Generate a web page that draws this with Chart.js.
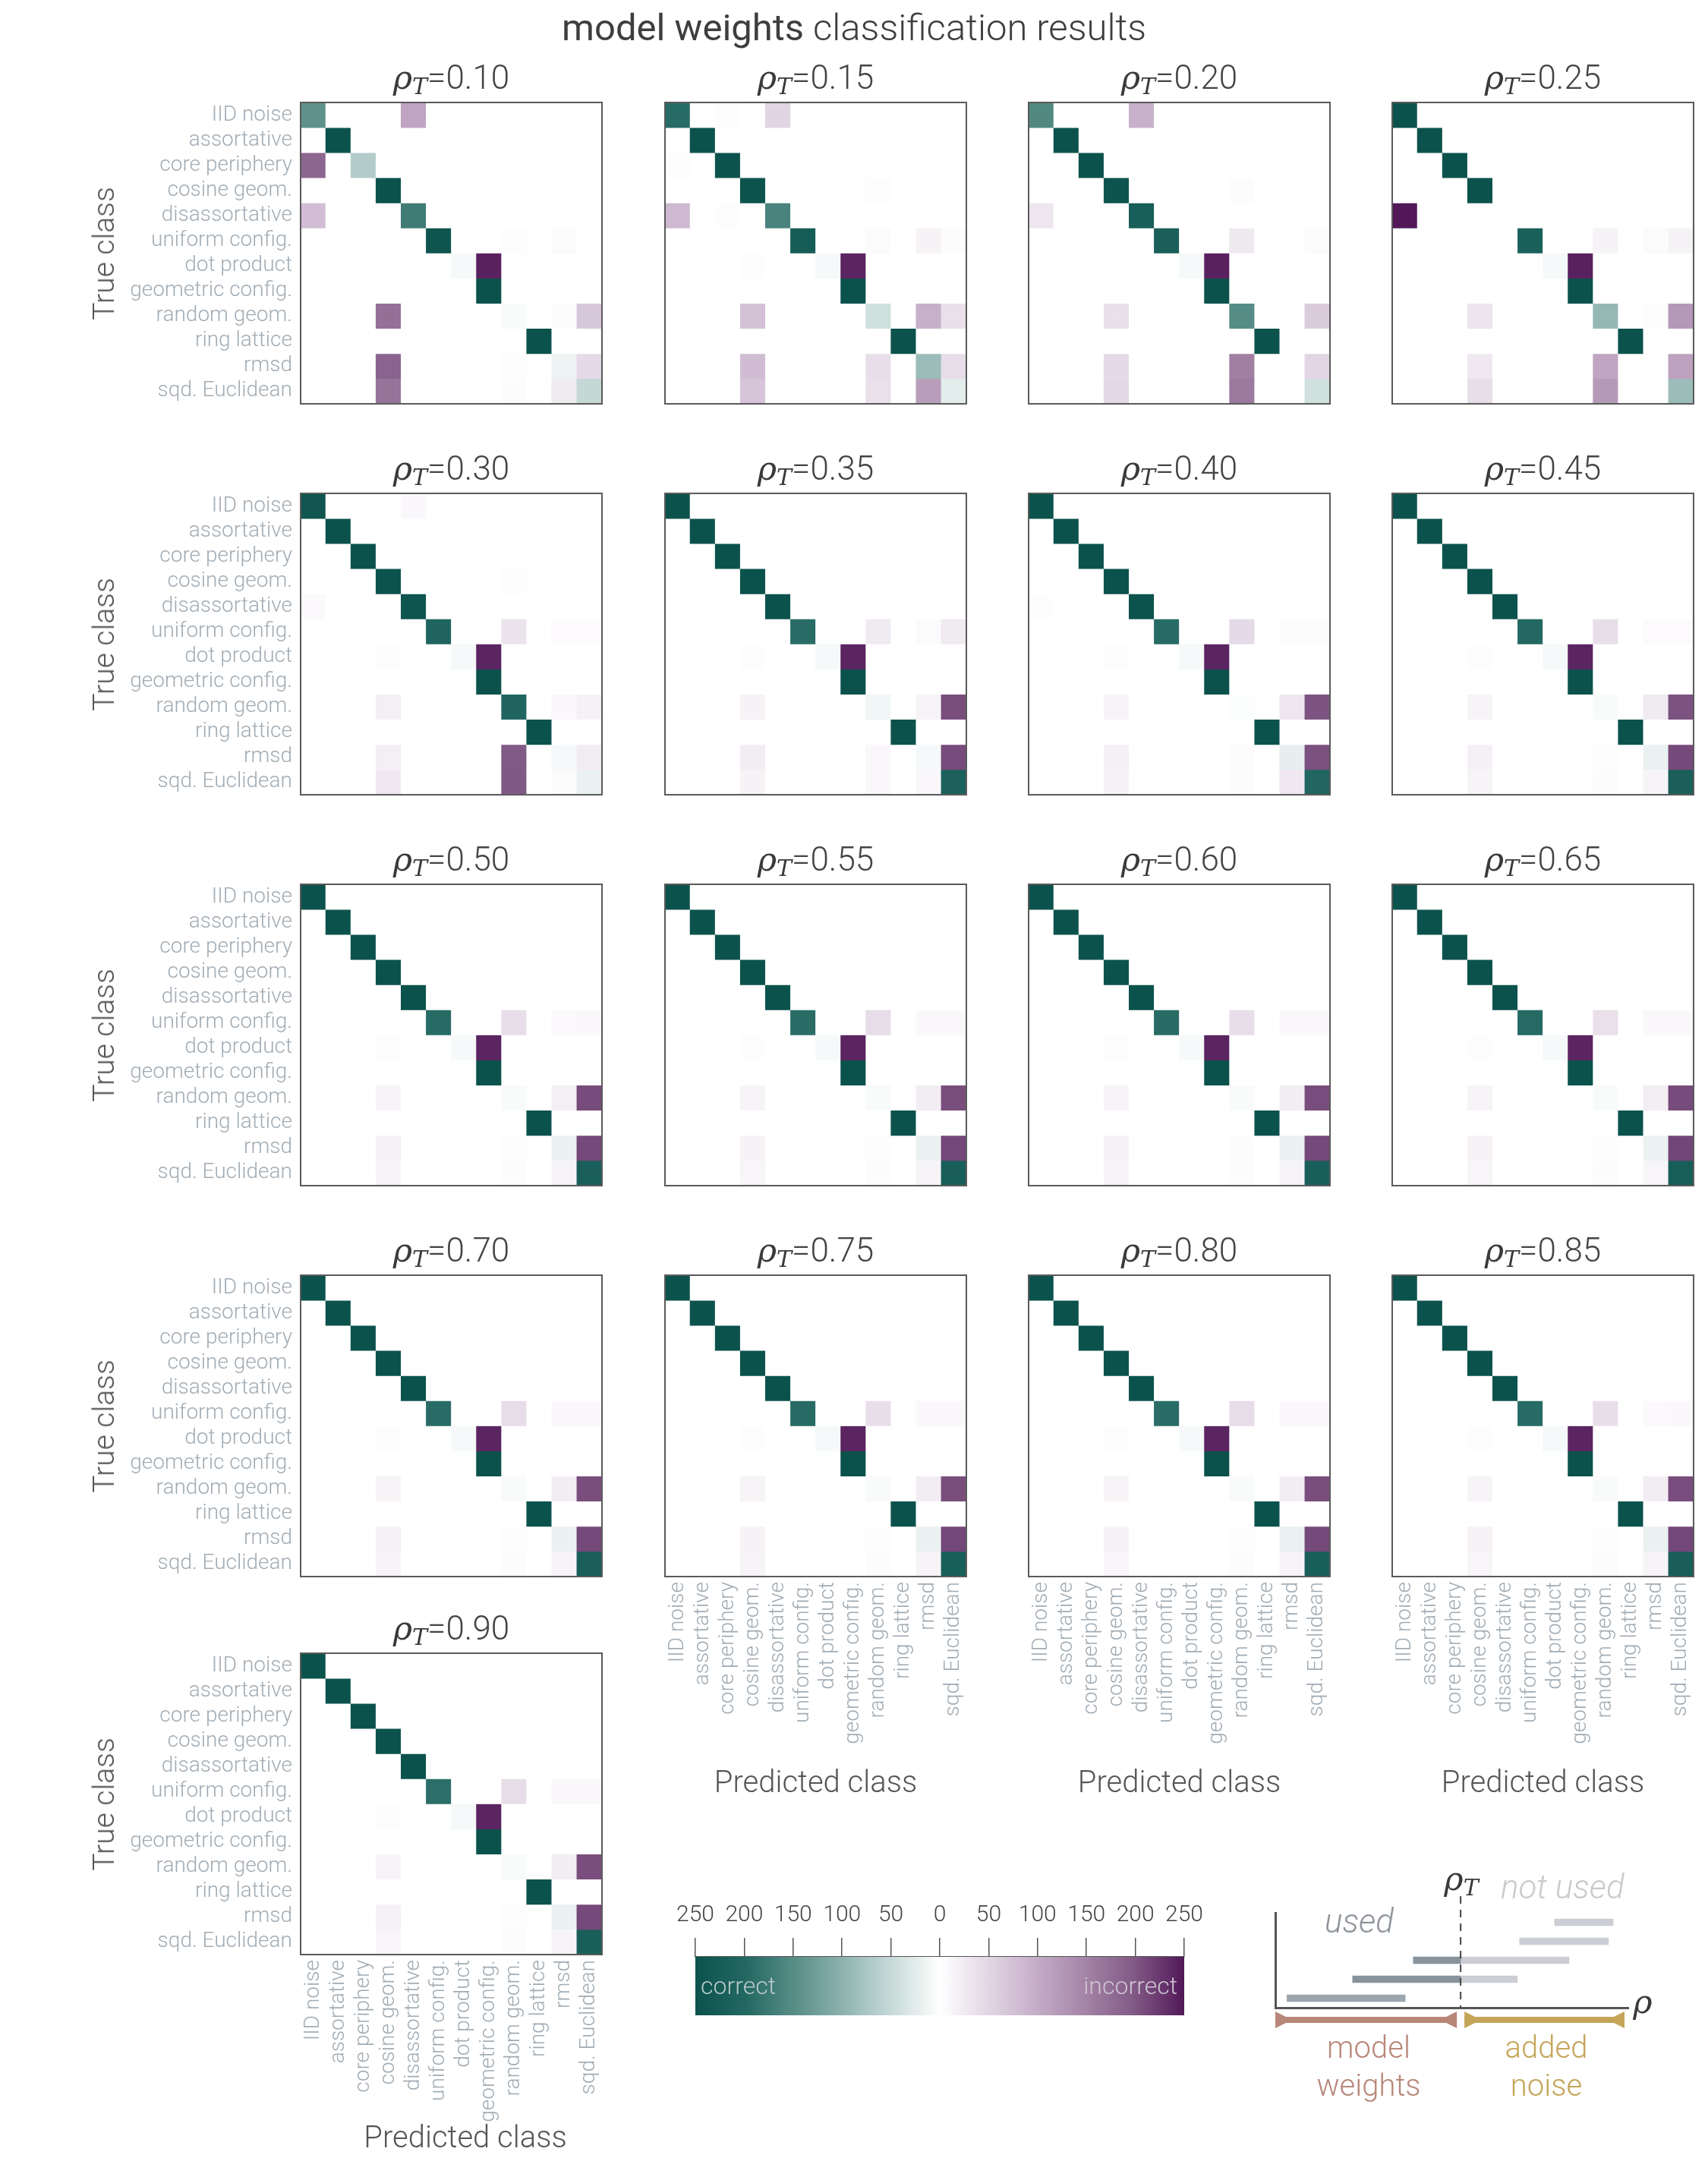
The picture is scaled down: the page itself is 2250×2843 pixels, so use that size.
<!DOCTYPE html>
<html>
<head>
<meta charset="utf-8">
<script src="https://cdn.jsdelivr.net/npm/chart.js@4.4.1/dist/chart.umd.min.js"></script>
<style>
  body { margin: 0; background: #fff; width: 2250px; height: 2843px; position: relative; overflow: hidden;
         font-family: Roboto, "Open Sans", sans-serif; font-weight: 300; }
  canvas { position: absolute; }
  .t { position: absolute; white-space: nowrap; }
  .title { font-size: 49px; line-height: 56px; color: #3e3e3e; transform: translateX(-50%); }
  .title b { font-weight: 400; }
  .st { font-size: 44px; line-height: 50px; color: #444; transform: translateX(-50%); }
  .rho { font-family: "DejaVu Serif", serif; font-style: italic; font-size: 43px; color: #3a3a3a; }
  .rho sub { font-size: 30px; vertical-align: -7px; }
  .ylab { font-size: 39px; line-height: 42px; color: #555; transform: translate(-50%, -50%) rotate(-90deg); }
  .xlab { font-size: 40px; line-height: 50px; color: #555; transform: translateX(-50%); }
  .cb { font-size: 32px; line-height: 40px; }
  .sch { font-size: 44px; line-height: 50px; font-style: italic; }
  .lbl { font-size: 40px; line-height: 50px; text-align: center; transform: translateX(-50%); }
</style>
</head>
<body>
<script>
// class names, in matrix order (rows = true class, columns = predicted class)
const classes = ['IID noise', 'assortative', 'core periphery', 'cosine geom.', 'disassortative',
  'uniform config.', 'dot product', 'geometric config.', 'random geom.', 'ring lattice', 'rmsd', 'sqd. Euclidean'];

const rhoValues = ['0.10', '0.15', '0.20', '0.25', '0.30', '0.35', '0.40', '0.45', '0.50',
  '0.55', '0.60', '0.65', '0.70', '0.75', '0.80', '0.85', '0.90'];

// counts per true class (250 samples each)
const m010 = [
  [142,  0,  0,  0,108,  0,  0,  0,  0,  0,  0,  0],
  [  0,250,  0,  0,  0,  0,  0,  0,  0,  0,  0,  0],
  [183,  0, 67,  0,  0,  0,  0,  0,  0,  0,  0,  0],
  [  0,  0,  0,250,  0,  0,  0,  0,  0,  0,  0,  0],
  [ 78,  0,  0,  0,172,  0,  0,  0,  0,  0,  0,  0],
  [  0,  0,  0,  0,  0,243,  0,  0,  2,  0,  5,  0],
  [  0,  0,  0,  0,  0,  0,  8,242,  0,  0,  0,  0],
  [  0,  0,  0,  0,  0,  0,  0,250,  0,  0,  0,  0],
  [  0,  0,  0,172,  0,  0,  0,  0,  6,  0,  4, 68],
  [  0,  0,  0,  0,  0,  0,  0,  0,  0,250,  0,  0],
  [  0,  0,  0,186,  0,  0,  0,  0,  3,  0, 16, 45],
  [  0,  0,  0,168,  0,  0,  0,  0,  4,  0, 26, 52]
];
const m015 = [
  [195,  0,  3,  0, 52,  0,  0,  0,  0,  0,  0,  0],
  [  0,250,  0,  0,  0,  0,  0,  0,  0,  0,  0,  0],
  [  2,  0,248,  0,  0,  0,  0,  0,  0,  0,  0,  0],
  [  0,  0,  0,247,  0,  0,  0,  0,  3,  0,  0,  0],
  [ 85,  0,  3,  0,162,  0,  0,  0,  0,  0,  0,  0],
  [  0,  0,  0,  0,  0,225,  0,  0,  5,  0, 16,  4],
  [  0,  0,  0,  2,  0,  0,  8,240,  0,  0,  0,  0],
  [  0,  0,  0,  0,  0,  0,  0,250,  0,  0,  0,  0],
  [  0,  0,  0, 75,  0,  0,  0,  0, 42,  0, 95, 38],
  [  0,  0,  0,  0,  0,  0,  0,  0,  0,250,  0,  0],
  [  0,  0,  0, 80,  0,  0,  0,  0, 40,  0, 88, 42],
  [  0,  0,  0, 70,  0,  0,  0,  0, 38,  0,117, 25]
];
const m020 = [
  [155,  0,  0,  0, 95,  0,  0,  0,  0,  0,  0,  0],
  [  0,250,  0,  0,  0,  0,  0,  0,  0,  0,  0,  0],
  [  0,  0,250,  0,  0,  0,  0,  0,  0,  0,  0,  0],
  [  0,  0,  0,246,  0,  0,  0,  0,  4,  0,  0,  0],
  [ 30,  0,  0,  0,220,  0,  0,  0,  0,  0,  0,  0],
  [  0,  0,  0,  0,  0,218,  0,  0, 27,  0,  0,  5],
  [  0,  0,  0,  0,  0,  0,  8,242,  0,  0,  0,  0],
  [  0,  0,  0,  0,  0,  0,  0,250,  0,  0,  0,  0],
  [  0,  0,  0, 38,  0,  0,  0,  0,150,  0,  0, 62],
  [  0,  0,  0,  0,  0,  0,  0,  0,  0,250,  0,  0],
  [  0,  0,  0, 45,  0,  0,  0,  0,155,  0,  0, 50],
  [  0,  0,  0, 48,  0,  0,  0,  0,160,  0,  0, 42]
];
const m025 = [
  [250,  0,  0,  0,  0,  0,  0,  0,  0,  0,  0,  0],
  [  0,250,  0,  0,  0,  0,  0,  0,  0,  0,  0,  0],
  [  0,  0,250,  0,  0,  0,  0,  0,  0,  0,  0,  0],
  [  0,  0,  0,250,  0,  0,  0,  0,  0,  0,  0,  0],
  [250,  0,  0,  0,  0,  0,  0,  0,  0,  0,  0,  0],
  [  0,  0,  0,  0,  0,215,  0,  0, 15,  0,  5, 15],
  [  0,  0,  0,  0,  0,  0,  8,242,  0,  0,  0,  0],
  [  0,  0,  0,  0,  0,  0,  0,250,  0,  0,  0,  0],
  [  0,  0,  0, 32,  0,  0,  0,  0, 92,  0,  3,123],
  [  0,  0,  0,  0,  0,  0,  0,  0,  0,250,  0,  0],
  [  0,  0,  0, 28,  0,  0,  0,  0,108,  0,  2,112],
  [  0,  0,  0, 40,  0,  0,  0,  0,122,  0,  0, 88]
];
const m030 = [
  [242,  0,  0,  0,  8,  0,  0,  0,  0,  0,  0,  0],
  [  0,250,  0,  0,  0,  0,  0,  0,  0,  0,  0,  0],
  [  0,  0,250,  0,  0,  0,  0,  0,  0,  0,  0,  0],
  [  0,  0,  0,247,  0,  0,  0,  0,  3,  0,  0,  0],
  [  7,  0,  0,  0,243,  0,  0,  0,  0,  0,  0,  0],
  [  0,  0,  0,  0,  0,205,  0,  0, 33,  0,  6,  6],
  [  0,  0,  0,  2,  0,  0,  8,240,  0,  0,  0,  0],
  [  0,  0,  0,  0,  0,  0,  0,250,  0,  0,  0,  0],
  [  0,  0,  0, 20,  0,  0,  0,  0,205,  0,  8, 17],
  [  0,  0,  0,  0,  0,  0,  0,  0,  0,250,  0,  0],
  [  0,  0,  0, 20,  0,  0,  0,  0,198,  0,  8, 24],
  [  0,  0,  0, 28,  0,  0,  0,  0,199,  0,  5, 18]
];
const m035 = [
  [250,  0,  0,  0,  0,  0,  0,  0,  0,  0,  0,  0],
  [  0,250,  0,  0,  0,  0,  0,  0,  0,  0,  0,  0],
  [  0,  0,250,  0,  0,  0,  0,  0,  0,  0,  0,  0],
  [  0,  0,  0,250,  0,  0,  0,  0,  0,  0,  0,  0],
  [  0,  0,  0,  0,250,  0,  0,  0,  0,  0,  0,  0],
  [  0,  0,  0,  0,  0,193,  0,  0, 26,  0,  5, 26],
  [  0,  0,  0,  2,  0,  0,  8,240,  0,  0,  0,  0],
  [  0,  0,  0,  0,  0,  0,  0,250,  0,  0,  0,  0],
  [  0,  0,  0, 16,  0,  0,  0,  0, 12,  0, 14,208],
  [  0,  0,  0,  0,  0,  0,  0,  0,  0,250,  0,  0],
  [  0,  0,  0, 22,  0,  0,  0,  0, 10,  0,  8,210],
  [  0,  0,  0, 16,  0,  0,  0,  0, 10,  0, 10,214]
];
const m040 = [
  [250,  0,  0,  0,  0,  0,  0,  0,  0,  0,  0,  0],
  [  0,250,  0,  0,  0,  0,  0,  0,  0,  0,  0,  0],
  [  0,  0,250,  0,  0,  0,  0,  0,  0,  0,  0,  0],
  [  0,  0,  0,250,  0,  0,  0,  0,  0,  0,  0,  0],
  [  2,  0,  0,  0,248,  0,  0,  0,  0,  0,  0,  0],
  [  0,  0,  0,  0,  0,195,  0,  0, 45,  0,  5,  5],
  [  0,  0,  0,  2,  0,  0,  8,240,  0,  0,  0,  0],
  [  0,  0,  0,  0,  0,  0,  0,250,  0,  0,  0,  0],
  [  0,  0,  0, 14,  0,  0,  0,  0,  3,  0, 30,203],
  [  0,  0,  0,  0,  0,  0,  0,  0,  0,250,  0,  0],
  [  0,  0,  0, 18,  0,  0,  0,  0,  4,  0, 22,206],
  [  0,  0,  0, 15,  0,  0,  0,  0,  4,  0, 28,203]
];
const m045 = [
  [250,  0,  0,  0,  0,  0,  0,  0,  0,  0,  0,  0],
  [  0,250,  0,  0,  0,  0,  0,  0,  0,  0,  0,  0],
  [  0,  0,250,  0,  0,  0,  0,  0,  0,  0,  0,  0],
  [  0,  0,  0,250,  0,  0,  0,  0,  0,  0,  0,  0],
  [  0,  0,  0,  0,250,  0,  0,  0,  0,  0,  0,  0],
  [  0,  0,  0,  0,  0,198,  0,  0, 40,  0,  6,  6],
  [  0,  0,  0,  2,  0,  0,  8,240,  0,  0,  0,  0],
  [  0,  0,  0,  0,  0,  0,  0,250,  0,  0,  0,  0],
  [  0,  0,  0, 14,  0,  0,  0,  0,  6,  0, 26,204],
  [  0,  0,  0,  0,  0,  0,  0,  0,  0,250,  0,  0],
  [  0,  0,  0, 18,  0,  0,  0,  0,  3,  0, 18,211],
  [  0,  0,  0, 14,  0,  0,  0,  0,  4,  0, 14,218]
];
const m050 = [
  [250,  0,  0,  0,  0,  0,  0,  0,  0,  0,  0,  0],
  [  0,250,  0,  0,  0,  0,  0,  0,  0,  0,  0,  0],
  [  0,  0,250,  0,  0,  0,  0,  0,  0,  0,  0,  0],
  [  0,  0,  0,250,  0,  0,  0,  0,  0,  0,  0,  0],
  [  0,  0,  0,  0,250,  0,  0,  0,  0,  0,  0,  0],
  [  0,  0,  0,  0,  0,195,  0,  0, 40,  0,  7,  8],
  [  0,  0,  0,  2,  0,  0,  8,240,  0,  0,  0,  0],
  [  0,  0,  0,  0,  0,  0,  0,250,  0,  0,  0,  0],
  [  0,  0,  0, 14,  0,  0,  0,  0,  6,  0, 20,210],
  [  0,  0,  0,  0,  0,  0,  0,  0,  0,250,  0,  0],
  [  0,  0,  0, 17,  0,  0,  0,  0,  3,  0, 18,212],
  [  0,  0,  0, 14,  0,  0,  0,  0,  4,  0, 13,219]
];
const m055 = [
  [250,  0,  0,  0,  0,  0,  0,  0,  0,  0,  0,  0],
  [  0,250,  0,  0,  0,  0,  0,  0,  0,  0,  0,  0],
  [  0,  0,250,  0,  0,  0,  0,  0,  0,  0,  0,  0],
  [  0,  0,  0,250,  0,  0,  0,  0,  0,  0,  0,  0],
  [  0,  0,  0,  0,250,  0,  0,  0,  0,  0,  0,  0],
  [  0,  0,  0,  0,  0,192,  0,  0, 42,  0,  8,  8],
  [  0,  0,  0,  2,  0,  0,  8,240,  0,  0,  0,  0],
  [  0,  0,  0,  0,  0,  0,  0,250,  0,  0,  0,  0],
  [  0,  0,  0, 14,  0,  0,  0,  0,  6,  0, 22,208],
  [  0,  0,  0,  0,  0,  0,  0,  0,  0,250,  0,  0],
  [  0,  0,  0, 16,  0,  0,  0,  0,  3,  0, 18,213],
  [  0,  0,  0, 12,  0,  0,  0,  0,  4,  0, 13,221]
];
const m060 = [
  [250,  0,  0,  0,  0,  0,  0,  0,  0,  0,  0,  0],
  [  0,250,  0,  0,  0,  0,  0,  0,  0,  0,  0,  0],
  [  0,  0,250,  0,  0,  0,  0,  0,  0,  0,  0,  0],
  [  0,  0,  0,250,  0,  0,  0,  0,  0,  0,  0,  0],
  [  0,  0,  0,  0,250,  0,  0,  0,  0,  0,  0,  0],
  [  0,  0,  0,  0,  0,194,  0,  0, 40,  0,  8,  8],
  [  0,  0,  0,  2,  0,  0,  8,240,  0,  0,  0,  0],
  [  0,  0,  0,  0,  0,  0,  0,250,  0,  0,  0,  0],
  [  0,  0,  0, 14,  0,  0,  0,  0,  5,  0, 22,209],
  [  0,  0,  0,  0,  0,  0,  0,  0,  0,250,  0,  0],
  [  0,  0,  0, 16,  0,  0,  0,  0,  4,  0, 18,212],
  [  0,  0,  0, 13,  0,  0,  0,  0,  4,  0, 13,220]
];
const m065 = [
  [250,  0,  0,  0,  0,  0,  0,  0,  0,  0,  0,  0],
  [  0,250,  0,  0,  0,  0,  0,  0,  0,  0,  0,  0],
  [  0,  0,250,  0,  0,  0,  0,  0,  0,  0,  0,  0],
  [  0,  0,  0,250,  0,  0,  0,  0,  0,  0,  0,  0],
  [  0,  0,  0,  0,250,  0,  0,  0,  0,  0,  0,  0],
  [  0,  0,  0,  0,  0,196,  0,  0, 38,  0,  8,  8],
  [  0,  0,  0,  2,  0,  0,  8,240,  0,  0,  0,  0],
  [  0,  0,  0,  0,  0,  0,  0,250,  0,  0,  0,  0],
  [  0,  0,  0, 13,  0,  0,  0,  0,  6,  0, 21,210],
  [  0,  0,  0,  0,  0,  0,  0,  0,  0,250,  0,  0],
  [  0,  0,  0, 16,  0,  0,  0,  0,  3,  0, 17,214],
  [  0,  0,  0, 12,  0,  0,  0,  0,  4,  0, 12,222]
];
const m070 = [
  [250,  0,  0,  0,  0,  0,  0,  0,  0,  0,  0,  0],
  [  0,250,  0,  0,  0,  0,  0,  0,  0,  0,  0,  0],
  [  0,  0,250,  0,  0,  0,  0,  0,  0,  0,  0,  0],
  [  0,  0,  0,250,  0,  0,  0,  0,  0,  0,  0,  0],
  [  0,  0,  0,  0,250,  0,  0,  0,  0,  0,  0,  0],
  [  0,  0,  0,  0,  0,193,  0,  0, 41,  0,  8,  8],
  [  0,  0,  0,  2,  0,  0,  8,240,  0,  0,  0,  0],
  [  0,  0,  0,  0,  0,  0,  0,250,  0,  0,  0,  0],
  [  0,  0,  0, 14,  0,  0,  0,  0,  6,  0, 22,208],
  [  0,  0,  0,  0,  0,  0,  0,  0,  0,250,  0,  0],
  [  0,  0,  0, 17,  0,  0,  0,  0,  3,  0, 18,212],
  [  0,  0,  0, 14,  0,  0,  0,  0,  4,  0, 13,219]
];
const m075 = [
  [250,  0,  0,  0,  0,  0,  0,  0,  0,  0,  0,  0],
  [  0,250,  0,  0,  0,  0,  0,  0,  0,  0,  0,  0],
  [  0,  0,250,  0,  0,  0,  0,  0,  0,  0,  0,  0],
  [  0,  0,  0,250,  0,  0,  0,  0,  0,  0,  0,  0],
  [  0,  0,  0,  0,250,  0,  0,  0,  0,  0,  0,  0],
  [  0,  0,  0,  0,  0,194,  0,  0, 40,  0,  8,  8],
  [  0,  0,  0,  2,  0,  0,  8,240,  0,  0,  0,  0],
  [  0,  0,  0,  0,  0,  0,  0,250,  0,  0,  0,  0],
  [  0,  0,  0, 14,  0,  0,  0,  0,  6,  0, 22,208],
  [  0,  0,  0,  0,  0,  0,  0,  0,  0,250,  0,  0],
  [  0,  0,  0, 16,  0,  0,  0,  0,  3,  0, 18,213],
  [  0,  0,  0, 13,  0,  0,  0,  0,  4,  0, 13,220]
];
const m080 = [
  [250,  0,  0,  0,  0,  0,  0,  0,  0,  0,  0,  0],
  [  0,250,  0,  0,  0,  0,  0,  0,  0,  0,  0,  0],
  [  0,  0,250,  0,  0,  0,  0,  0,  0,  0,  0,  0],
  [  0,  0,  0,250,  0,  0,  0,  0,  0,  0,  0,  0],
  [  0,  0,  0,  0,250,  0,  0,  0,  0,  0,  0,  0],
  [  0,  0,  0,  0,  0,192,  0,  0, 42,  0,  8,  8],
  [  0,  0,  0,  2,  0,  0,  8,240,  0,  0,  0,  0],
  [  0,  0,  0,  0,  0,  0,  0,250,  0,  0,  0,  0],
  [  0,  0,  0, 14,  0,  0,  0,  0,  6,  0, 22,208],
  [  0,  0,  0,  0,  0,  0,  0,  0,  0,250,  0,  0],
  [  0,  0,  0, 16,  0,  0,  0,  0,  3,  0, 19,212],
  [  0,  0,  0, 12,  0,  0,  0,  0,  4,  0, 14,220]
];
const m085 = [
  [250,  0,  0,  0,  0,  0,  0,  0,  0,  0,  0,  0],
  [  0,250,  0,  0,  0,  0,  0,  0,  0,  0,  0,  0],
  [  0,  0,250,  0,  0,  0,  0,  0,  0,  0,  0,  0],
  [  0,  0,  0,250,  0,  0,  0,  0,  0,  0,  0,  0],
  [  0,  0,  0,  0,250,  0,  0,  0,  0,  0,  0,  0],
  [  0,  0,  0,  0,  0,195,  0,  0, 40,  0,  7,  8],
  [  0,  0,  0,  2,  0,  0,  8,240,  0,  0,  0,  0],
  [  0,  0,  0,  0,  0,  0,  0,250,  0,  0,  0,  0],
  [  0,  0,  0, 13,  0,  0,  0,  0,  6,  0, 22,209],
  [  0,  0,  0,  0,  0,  0,  0,  0,  0,250,  0,  0],
  [  0,  0,  0, 16,  0,  0,  0,  0,  3,  0, 18,213],
  [  0,  0,  0, 12,  0,  0,  0,  0,  4,  0, 13,221]
];
const m090 = [
  [250,  0,  0,  0,  0,  0,  0,  0,  0,  0,  0,  0],
  [  0,250,  0,  0,  0,  0,  0,  0,  0,  0,  0,  0],
  [  0,  0,250,  0,  0,  0,  0,  0,  0,  0,  0,  0],
  [  0,  0,  0,250,  0,  0,  0,  0,  0,  0,  0,  0],
  [  0,  0,  0,  0,250,  0,  0,  0,  0,  0,  0,  0],
  [  0,  0,  0,  0,  0,190,  0,  0, 42,  0,  9,  9],
  [  0,  0,  0,  2,  0,  0,  8,240,  0,  0,  0,  0],
  [  0,  0,  0,  0,  0,  0,  0,250,  0,  0,  0,  0],
  [  0,  0,  0, 14,  0,  0,  0,  0,  6,  0, 22,208],
  [  0,  0,  0,  0,  0,  0,  0,  0,  0,250,  0,  0],
  [  0,  0,  0, 17,  0,  0,  0,  0,  3,  0, 18,212],
  [  0,  0,  0, 12,  0,  0,  0,  0,  4,  0, 14,220]
];
const panelMatrices = [m010, m015, m020, m025, m030, m035, m040, m045, m050,
  m055, m060, m065, m070, m075, m080, m085, m090];

// colour bar ticks
const cbarMin = -250, cbarMax = 250, cbarStep = 50;

// schematic: sample windows along rho, and the threshold
const windowStart = [0.033, 0.219, 0.391, 0.692, 0.791];
const windowEnd = [0.368, 0.686, 0.832, 0.944, 0.957];
const schemeRhoT = 0.525;

// ---------- styling / layout ----------
Chart.defaults.font.family = "Roboto, 'Open Sans', sans-serif";
Chart.defaults.font.weight = 300;
const tickColor = '#a2acb4';
const tickFont = { size: 28, weight: 300 };

// diverging map: green (correct, negative) - white - purple (incorrect, positive)
const cmapStops = [
  [-250, [12, 82, 76]], [-200, [34, 103, 97]], [-150, [86, 140, 134]], [-100, [141, 178, 174]],
  [-50, [198, 218, 216]], [0, [255, 255, 255]], [50, [226, 214, 228]], [100, [196, 172, 199]],
  [150, [163, 131, 166]], [200, [128, 88, 132]], [250, [82, 24, 88]]
];
function cmap(v) {
  v = Math.max(-250, Math.min(250, v));
  for (let s = 1; s < cmapStops.length; s++) {
    if (v <= cmapStops[s][0]) {
      const [v0, c0] = cmapStops[s - 1], [v1, c1] = cmapStops[s];
      const t = (v - v0) / (v1 - v0);
      return 'rgb(' + c0.map((c, i) => Math.round(c + (c1[i] - c) * t)).join(',') + ')';
    }
  }
  return 'rgb(82,24,88)';
}

const colX = [396, 876, 1355, 1834];
const rowY = [135, 650, 1165, 1680, 2178];
const PW = 397, PH = 397, PAD = 3, YAXW = 300, XAXH = 260;

function addText(html, cls, left, top) {
  const d = document.createElement('div');
  d.className = 't ' + cls;
  d.innerHTML = html;
  d.style.left = left + 'px';
  d.style.top = top + 'px';
  document.body.appendChild(d);
  return d;
}

function addCanvas(left, top, w, h) {
  const cv = document.createElement('canvas');
  cv.width = w; cv.height = h;
  cv.style.left = left + 'px'; cv.style.top = top + 'px';
  cv.style.width = w + 'px'; cv.style.height = h + 'px';
  document.body.appendChild(cv);
  return cv;
}

const framePlugin = {
  id: 'frame',
  afterDatasetsDraw(chart) {
    const { ctx, chartArea: a } = chart;
    ctx.save();
    ctx.strokeStyle = '#5a5a5a';
    ctx.lineWidth = 2;
    ctx.strokeRect(a.left, a.top, a.right - a.left, a.bottom - a.top);
    ctx.restore();
  }
};

function makePanel(k) {
  const col = k % 4, row = Math.floor(k / 4);
  const showY = col === 0;
  const showX = (row === 3 && col > 0) || row === 4;
  const x = colX[col], y = rowY[row];
  const yw = showY ? YAXW : 0, xh = showX ? XAXH : 0;
  const cv = addCanvas(x - PAD - yw, y - PAD, PW + 2 * PAD + yw, PH + 2 * PAD + xh);
  const mat = panelMatrices[k];

  const datasets = mat.map((r, i) => ({
    data: classes.map(() => [i, i + 1]),
    backgroundColor: r.map((v, j) => cmap(i === j ? -v : v)),
    borderWidth: 0,
    grouped: false,
    barPercentage: 1,
    categoryPercentage: 1
  }));

  new Chart(cv, {
    type: 'bar',
    data: { labels: classes, datasets },
    plugins: [framePlugin],
    options: {
      responsive: false, animation: false, devicePixelRatio: 1,
      layout: { padding: PAD },
      plugins: { legend: { display: false }, tooltip: { enabled: false } },
      scales: {
        x: {
          type: 'category', display: showX, offset: true,
          grid: { display: false, drawTicks: false }, border: { display: false },
          ticks: { autoSkip: false, minRotation: 90, maxRotation: 90, padding: 7,
                   color: tickColor, font: tickFont },
          afterFit: s => { if (showX) { s.height = XAXH; } s.paddingLeft = 0; s.paddingRight = 0; }
        },
        y: {
          type: 'linear', display: showY, reverse: true, min: 0, max: 12,
          grid: { display: false, drawTicks: false }, border: { display: false },
          afterBuildTicks: s => { s.ticks = classes.map((c, i) => ({ value: i + 0.5 })); },
          ticks: { autoSkip: false, padding: 11, color: tickColor, font: tickFont,
                   callback: v => classes[Math.floor(v)] },
          afterFit: s => { if (showY) { s.width = YAXW; } s.paddingTop = 0; s.paddingBottom = 0; }
        }
      }
    }
  });

  // subplot title and axis labels
  addText('<span class="rho">ρ<sub>T</sub></span>=' + rhoValues[k], 'st', x + PW / 2, y - 58);
  if (showY) addText('True class', 'ylab', 137, y + PH / 2);
  if (showX) {
    if (row === 4) addText('Predicted class', 'xlab', 613, 2791);
    else addText('Predicted class', 'xlab', x + PW / 2, 2323);
  }
}

addText('<b>model weights</b> classification results', 'title', 1125, 9);
for (let k = 0; k < panelMatrices.length; k++) makePanel(k);

// ---------- colour bar ----------
(function () {
  const L = 916, T = 2578, W = 644, H = 77, AX = 80, P = 40;
  const cv = addCanvas(L - P, T - AX - 3, W + 2 * P, H + AX + 6);
  new Chart(cv, {
    type: 'bar',
    data: {
      labels: [''],
      datasets: [{
        data: [[cbarMin, cbarMax]],
        borderWidth: 0, barPercentage: 1, categoryPercentage: 1,
        backgroundColor: c => {
          const a = c.chart.chartArea;
          if (!a) return null;
          const g = c.chart.ctx.createLinearGradient(a.left, 0, a.right, 0);
          for (let i = 0; i <= 50; i++) g.addColorStop(i / 50, cmap(cbarMin + (cbarMax - cbarMin) * i / 50));
          return g;
        }
      }]
    },
    options: {
      indexAxis: 'y', responsive: false, animation: false, devicePixelRatio: 1,
      layout: { padding: { left: P, right: P, top: 3, bottom: 3 } },
      plugins: { legend: { display: false }, tooltip: { enabled: false } },
      scales: {
        x: {
          position: 'top', min: cbarMin, max: cbarMax,
          ticks: { stepSize: cbarStep, callback: v => Math.abs(v), color: '#444', padding: 12,
                   font: { size: 30, weight: 300 } },
          grid: { display: true, drawOnChartArea: false, drawTicks: true, tickLength: 25, color: '#555', lineWidth: 1.5 },
          border: { display: true, color: '#555', width: 1.5 },
          afterFit: s => { s.height = AX; s.paddingLeft = 0; s.paddingRight = 0; }
        },
        y: { display: false }
      }
    }
  });
  addText('correct', 'cb', L + 7, 2596).style.color = '#b9cacb';
  const inc = addText('incorrect', 'cb', L + W - 9, 2596);
  inc.style.color = '#cec4d2';
  inc.style.transform = 'translateX(-100%)';
})();

// ---------- schematic ----------
(function () {
  const L = 1680, T = 2520, W = 465, H = 125;
  const pad = { left: 10, right: 10, top: 40, bottom: 45 };
  const cv = addCanvas(L - pad.left, T - pad.top, W + pad.left + pad.right, H + pad.top + pad.bottom);
  const usedColors = ['#9ca6af', '#88939c', '#88939c', '#88939c', '#88939c'];
  const used = windowStart.map((s, i) => s < schemeRhoT ? [s, Math.min(windowEnd[i], schemeRhoT)] : null);
  const unused = windowStart.map((s, i) => windowEnd[i] > schemeRhoT ? [Math.max(s, schemeRhoT), windowEnd[i]] : null);

  const schemePlugin = {
    id: 'scheme',
    afterDraw(chart) {
      const { ctx, chartArea: a, scales: { x } } = chart;
      const xt = x.getPixelForValue(schemeRhoT);
      ctx.save();
      ctx.strokeStyle = '#444'; ctx.lineWidth = 2; ctx.setLineDash([10, 8]);
      ctx.beginPath(); ctx.moveTo(xt, a.top - 22); ctx.lineTo(xt, a.bottom); ctx.stroke();
      ctx.setLineDash([]);
      const yb = a.bottom + 16;
      const bracket = (x0, x1, color) => {
        ctx.fillStyle = color;
        ctx.fillRect(x0, yb - 4, x1 - x0, 8);
        ctx.beginPath();
        ctx.moveTo(x0, yb - 11); ctx.lineTo(x0, yb + 11); ctx.lineTo(x0 + 14, yb + 4); ctx.lineTo(x0 + 14, yb - 4); ctx.closePath(); ctx.fill();
        ctx.beginPath();
        ctx.moveTo(x1, yb - 11); ctx.lineTo(x1, yb + 11); ctx.lineTo(x1 - 14, yb + 4); ctx.lineTo(x1 - 14, yb - 4); ctx.closePath(); ctx.fill();
      };
      bracket(x.getPixelForValue(0), xt - 5, '#b8877a');
      bracket(xt + 5, x.getPixelForValue(1) - 5, '#c4a55a');
      ctx.restore();
    }
  };

  new Chart(cv, {
    type: 'bar',
    data: {
      labels: windowStart.map((s, i) => 'w' + i),
      datasets: [
        { data: used, backgroundColor: usedColors, borderWidth: 0, grouped: false, barThickness: 9 },
        { data: unused, backgroundColor: '#cccdd5', borderWidth: 0, grouped: false, barThickness: 9 }
      ]
    },
    plugins: [schemePlugin],
    options: {
      indexAxis: 'y', responsive: false, animation: false, devicePixelRatio: 1,
      layout: { padding: pad },
      plugins: { legend: { display: false }, tooltip: { enabled: false } },
      scales: {
        x: { min: 0, max: 1, ticks: { display: false }, grid: { display: false, drawTicks: false },
             border: { display: true, color: '#555', width: 3 },
             afterFit: s => { s.height = 0; s.paddingLeft = 0; s.paddingRight = 0; } },
        y: { reverse: true, ticks: { display: false }, grid: { display: false, drawTicks: false },
             border: { display: true, color: '#555', width: 3 },
             afterFit: s => { s.width = 0; s.paddingTop = 0; s.paddingBottom = 0; } }
      }
    }
  });

  const u = addText('used', 'sch', 1745, 2506); u.style.color = '#8e949b';
  const nu = addText('not used', 'sch', 1977, 2461); nu.style.color = '#c9c9ce';
  addText('<span class="rho">ρ<sub>T</sub></span>', 'st', 1925, 2450);
  addText('<span class="rho">ρ</span>', 'st', 2164, 2612);
  const mw = addText('model<br>weights', 'lbl', 1803, 2673); mw.style.color = '#b8877a';
  const an = addText('added<br>noise', 'lbl', 2037, 2673); an.style.color = '#c4a55a';
})();
</script>
</body>
</html>
